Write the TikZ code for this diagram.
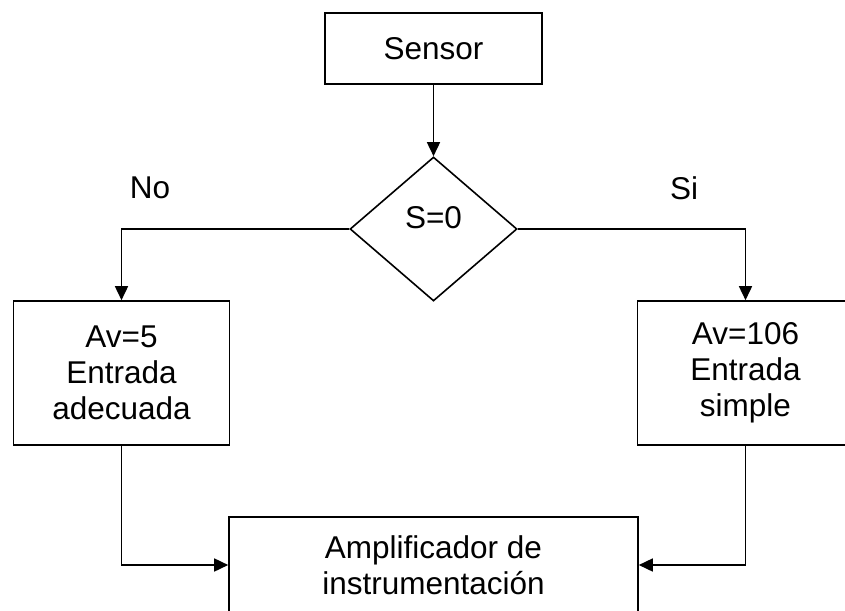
\documentclass[tikz,border=0pt]{standalone}
\usepackage{fontspec}
\setmainfont{Liberation Sans}
\usetikzlibrary{shapes.geometric,arrows.meta}
\begin{document}
\begin{tikzpicture}[x=1pt,y=1pt,
  every node/.style={font=\fontsize{31.5}{36}\selectfont},
  box/.style={draw,line width=1.6pt,align=center,inner sep=0pt},
  dec/.style={draw,line width=1.6pt,shape=diamond,aspect=1.16,minimum width=167pt,minimum height=144pt,inner sep=0pt},
  conn/.style={line width=1.6pt,-{Triangle[length=14pt,width=13pt]}},
  lbl/.style={inner sep=0pt}]
\useasboundingbox (0,0) rectangle (845,-610);
\fill[white] (0,0) rectangle (845,-610);
\node[box,minimum width=217pt,minimum height=71pt] (sensor) at (433.5,-48.5) {Sensor};
\node[dec] (d) at (433.5,-229) {};
\node[lbl] (dt) at (433.5,-218) {S=0};
\node[box,minimum width=216pt,minimum height=144pt] (lb) at (121.5,-373) {Av=5\\Entrada\\adecuada};
\node[box,minimum width=216pt,minimum height=144pt] (rb) at (745.5,-373) {Av=106\\Entrada\\simple};
\node[box,minimum width=409pt,minimum height=96pt] (amp) at (433.5,-565) {Amplificador de\\instrumentación};
\node[lbl] (no) at (150,-188) {No};
\node[lbl] (si) at (684,-188) {Si};
\draw[conn] (sensor.south) -- (d.north);
\draw[conn] (d.west) -| (lb.north);
\draw[conn] (d.east) -| (rb.north);
\draw[conn] (lb.south) |- (amp.west);
\draw[conn] (rb.south) |- (amp.east);
\end{tikzpicture}
\end{document}
